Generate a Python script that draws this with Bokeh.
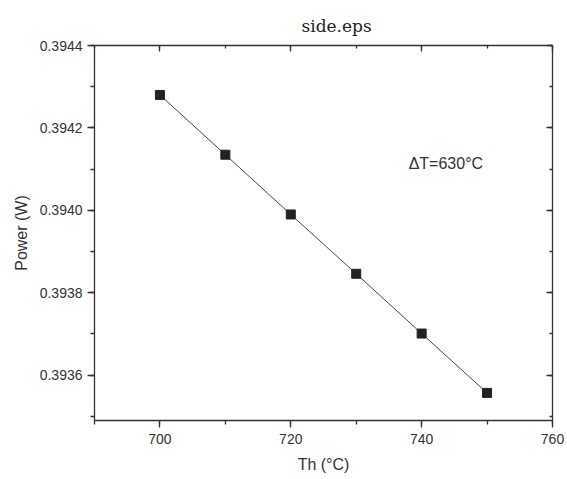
from bokeh.plotting import figure
from bokeh.models import LinearAxis, Range1d, Label, FixedTicker, PrintfTickFormatter, CustomJSTickFormatter, Title
from bokeh.embed import file_html
from bokeh.resources import INLINE

th = [700, 710, 720, 730, 740, 750]
power = [0.394280, 0.394135, 0.393990, 0.393846, 0.393701, 0.393557]
x_ticks = [700, 720, 740, 760]
x_minor = [690, 700, 710, 720, 730, 740, 750, 760]
y_ticks = [0.3936, 0.3938, 0.3940, 0.3942, 0.3944]
y_minor = [0.3935, 0.3936, 0.3937, 0.3938, 0.3939, 0.3940, 0.3941, 0.3942, 0.3943, 0.3944]

FONT = "Liberation Sans"
AX = "#333333"

p = figure(width=567, height=479, output_backend="svg", toolbar_location=None,
           x_range=Range1d(690, 760), y_range=Range1d(0.39349, 0.3944),
           min_border_left=94, min_border_right=15, min_border_top=45, min_border_bottom=59,
           background_fill_color="white", border_fill_color="white", outline_line_color=None)
p.grid.visible = False
p.title = Title(text="side.eps", align="left", offset=207, standoff=20, text_line_height=0.6,
                text_font="DejaVu Serif", text_font_size="17px", text_font_style="normal",
                text_color="#222222")

def style(ax, labels=True, inward=False):
    ax.axis_line_color = AX
    ax.axis_line_width = 1.3
    ax.major_tick_line_color = AX
    ax.minor_tick_line_color = AX
    ax.major_tick_line_width = 1.3
    ax.minor_tick_line_width = 1.3
    if inward:
        ax.major_tick_in = 6
        ax.major_tick_out = 0
        ax.minor_tick_in = 3
        ax.minor_tick_out = 0
        ax.major_label_standoff = 0
        ax.formatter = CustomJSTickFormatter(code="return ''")
    else:
        ax.major_tick_in = 0
        ax.major_tick_out = 7
        ax.minor_tick_in = 0
        ax.minor_tick_out = 4
    ax.major_label_text_font = FONT
    ax.major_label_text_font_size = "14px"
    ax.major_label_text_color = "#333333"
    ax.axis_label_text_font = FONT
    ax.axis_label_text_font_size = "16px"
    ax.axis_label_text_font_style = "normal"
    ax.axis_label_text_color = "#333333"

xb = p.xaxis[0]
xb.ticker = FixedTicker(ticks=x_ticks, minor_ticks=x_minor)
xb.axis_label = "Th (°C)"
style(xb)
xb.major_label_standoff = 6
xb.axis_label_standoff = 9

yl = p.yaxis[0]
yl.ticker = FixedTicker(ticks=y_ticks, minor_ticks=y_minor)
yl.axis_label = "Power (W)"
style(yl)
yl.major_label_standoff = 5
yl.axis_label_standoff = 7
yl.formatter = PrintfTickFormatter(format="%.4f")

xt = LinearAxis(ticker=FixedTicker(ticks=x_ticks, minor_ticks=x_minor))
style(xt, inward=True)
p.add_layout(xt, "above")

yr = LinearAxis(ticker=FixedTicker(ticks=y_ticks, minor_ticks=y_minor))
style(yr, inward=True)
p.add_layout(yr, "right")

p.line(th, power, line_color="#444444", line_width=1)
p.scatter(th, power, marker="square", size=9, fill_color="#222222", line_color="#222222")

p.add_layout(Label(x=740, y=0.39400, text="ΔT=630°C", x_offset=-13, y_offset=38,
                   text_font=FONT, text_font_size="16px", text_color="#333333"))

open("out.html", "w").write(file_html(p, INLINE))
